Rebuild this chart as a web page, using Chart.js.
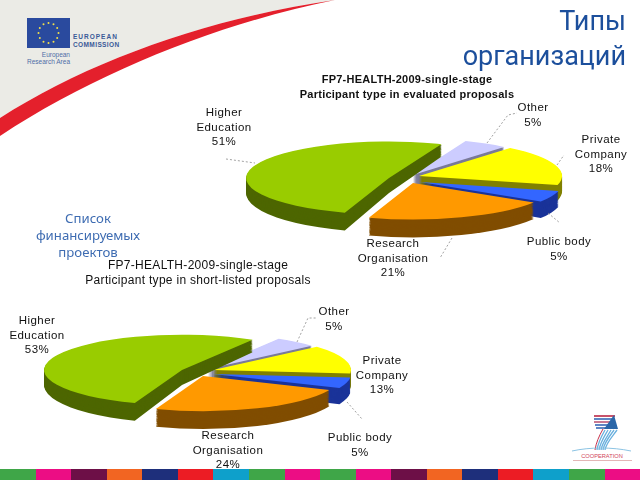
<!DOCTYPE html>
<html>
<head>
<meta charset="utf-8">
<title>Типы организаций</title>
<script src="https://cdn.jsdelivr.net/npm/chart.js@4/dist/chart.umd.min.js"></script>
<style>
  html, body { margin: 0; padding: 0; background: #fff; }
  #page { position: relative; width: 640px; height: 480px; overflow: hidden; background: #fff; }
  #page canvas.pie { position: absolute; left: 0; top: 0; }
  #decor { position: absolute; left: 0; top: 0; }
  #heading {
    position: absolute; right: 14px; top: 4px; text-align: right;
    font: 27px/35px Roboto, sans-serif; color: #1c4f9c;
  }
  #side {
    position: absolute; left: 18px; top: 210px; width: 140px; text-align: center;
    font: 13.2px/17px "Noto Sans", sans-serif; color: #3e6cb2;
  }
  #footer { position: absolute; left: 0; top: 469px; width: 640px; height: 11px; display: flex; }
  #footer div { flex: 1; }
</style>
</head>
<body>
<div id="page">
  <svg id="decor" width="640" height="480">
    <path d="M0 0H335C210 18 90 60 0 118Z" fill="#ebebe6"/>
    <path d="M0 118C90 60 210 18 335 0C225 22 100 70 0 136Z" fill="#e4202c"/>
    <rect x="27" y="18" width="43" height="30" fill="#2a4a9e"/>
    <g id="stars" fill="#f3e04a"></g>
    <text x="73" y="39" font-family="Liberation Sans" font-size="6.5" font-weight="bold" letter-spacing="1" fill="#3a5a98">EUROPEAN</text>
    <text x="73" y="47" font-family="Liberation Sans" font-size="6.5" font-weight="bold" letter-spacing="0.4" fill="#3a5a98">COMMISSION</text>
    <text x="70" y="57" text-anchor="end" font-family="Liberation Sans" font-size="6.5" fill="#4f6da6">European</text>
    <text x="70" y="64" text-anchor="end" font-family="Liberation Sans" font-size="6.5" fill="#4f6da6">Research Area</text>
    <!-- FP7 logo -->
    <g fill="#5f86c4">
      <rect x="594" y="415" width="21" height="2" fill="#c8526a"/>
      <rect x="594" y="418" width="19" height="2"/>
      <rect x="594" y="421" width="17" height="2" fill="#c87a92"/>
      <rect x="595" y="424" width="15" height="2"/>
      <rect x="596" y="427" width="14" height="2"/>
    </g>
    <path d="M614 415L618 429H604Z" fill="#2a66a8"/>
    <g fill="none" stroke="#6ab0de" stroke-width="1.3">
      <path d="M605 430C601 437 598 443 597 450"/>
      <path d="M608 430C604 437 600 443 599 450"/>
      <path d="M611 430C607 437 602 443 601 450"/>
      <path d="M614 430C609 437 604 443 603 450"/>
      <path d="M617 430C612 437 606 443 605 450"/>
    </g>
    <path d="M603 429C599 436 596 443 595 450" fill="none" stroke="#c8304a" stroke-width="1"/>
    <path d="M572 451C590 447 612 447 631 451" fill="none" stroke="#8cc4e4" stroke-width="1"/>
    <text x="602" y="458" text-anchor="middle" font-family="Liberation Sans" font-size="5.7" fill="#d0455a">COOPERATION</text>
    <rect x="573" y="460" width="59" height="1" fill="#e3b6b6"/>
  </svg>
  <canvas class="pie" id="evaluatedPie" width="640" height="480"></canvas>
  <canvas class="pie" id="shortlistPie" width="640" height="480"></canvas>
  <div id="heading">Типы<br>организаций</div>
  <div id="side">Список<br>финансируемых<br>проектов</div>
  <div id="footer"></div>
</div>

<script>
// data
const categories = ['Higher Education', 'Other', 'Private Company', 'Public body', 'Research Organisation'];
const evaluatedShares = [51, 5, 18, 5, 21];
const shortlistShares = [53, 5, 13, 5, 24];
const evaluatedTitle = ['FP7-HEALTH-2009-single-stage', 'Participant type in evaluated proposals'];
const shortlistTitle = ['FP7-HEALTH-2009-single-stage', 'Participant type in short-listed proposals'];

const topColors = ['#99cc00', '#ccccff', '#ffff00', '#3366ff', '#ff9900'];
const sideColors = ['#4d6600', '#7a7a99', '#808000', '#1a3399', '#804d00'];
const footerColors = ['#3fa648', '#ec0d84', '#6d0f47', '#f26522', '#1e2f7b', '#ec1c24', '#0ea0cb', '#3fa648', '#ec0d84'];

// back to front, so the nearer slices cover the ones behind
const drawOrder = [1, 2, 0, 3, 4];
const squash = 0.255;
const depth = 15;
const flare = 0.08; // the lower rim is a bit wider, gives the perspective look

// fake 3D: flatten the arcs and stack darker copies under them
const tiltedPie = {
  id: 'tiltedPie',
  beforeDatasetsDraw(chart, args, opts) {
    const ctx = chart.ctx;
    const arcs = chart.getDatasetMeta(0).data;
    drawOrder.forEach(i => {
      const arc = arcs[i];
      const dark = Object.create(arc);
      dark.options = Object.assign({}, arc.options, { backgroundColor: sideColors[i] });
      for (let d = depth; d >= 0; d--) {
        ctx.save();
        ctx.translate(arc.x + opts.shift[i][0], arc.y + opts.shift[i][1] + d);
        ctx.scale(1, squash * (1 + flare * d / depth));
        ctx.translate(-arc.x, -arc.y);
        if (d === 0) arc.draw(ctx); else dark.draw(ctx);
        ctx.restore();
      }
    });
    return false;
  },
  afterDraw(chart, args, opts) {
    const ctx = chart.ctx;
    ctx.save();
    ctx.strokeStyle = '#8a8a8a';
    ctx.lineWidth = 0.8;
    ctx.setLineDash([2, 2]);
    opts.leaders.forEach(line => {
      ctx.beginPath();
      line.forEach((p, k) => k ? ctx.lineTo(p[0], p[1]) : ctx.moveTo(p[0], p[1]));
      ctx.stroke();
    });
    ctx.setLineDash([]);
    ctx.textAlign = 'center';
    ctx.textBaseline = 'middle';
    ctx.fillStyle = '#111';
    ctx.font = opts.titleFont;
    ctx.letterSpacing = opts.titleSpacing + 'px';
    opts.title.forEach((t, k) => ctx.fillText(t, opts.titlePos[0], opts.titlePos[1] + k * opts.titlePos[2]));
    ctx.font = '11.5px "Liberation Sans"';
    ctx.letterSpacing = '0.45px';
    const shares = chart.data.datasets[0].data;
    chart.data.labels.forEach((name, i) => {
      const pos = opts.labelPos[i];
      const lines = opts.labelLines[i].concat(shares[i] + '%');
      lines.forEach((t, k) => ctx.fillText(t, pos[0], pos[1] + k * 14.5));
    });
    ctx.restore();
  }
};

function makePie(id, shares, cfg) {
  // padding puts the middle of the chart area on the pie centre
  const padLeft = Math.max(0, 2 * cfg.center[0] - 640);
  const padRight = Math.max(0, 640 - 2 * cfg.center[0]);
  const padTop = Math.max(0, 2 * cfg.center[1] - 480);
  const padBottom = Math.max(0, 480 - 2 * cfg.center[1]);
  return new Chart(document.getElementById(id), {
    type: 'pie',
    data: {
      labels: categories,
      datasets: [{ data: shares, backgroundColor: topColors, borderWidth: 0 }]
    },
    options: {
      responsive: false,
      animation: false,
      rotation: cfg.rotation,
      radius: cfg.radius,
      events: [],
      layout: { padding: { left: padLeft, right: padRight, top: padTop, bottom: padBottom } },
      plugins: {
        legend: { display: false },
        tooltip: { enabled: false },
        tiltedPie: cfg
      }
    },
    plugins: [tiltedPie]
  });
}

const labelLines = [['Higher', 'Education'], ['Other'], ['Private', 'Company'], ['Public body'], ['Research', 'Organisation']];

makePie('evaluatedPie', evaluatedShares, {
  center: [415, 178],
  rotation: 198,
  radius: 143,
  shift: [[-26, 0], [-2, -3], [4, -2], [5, 4], [-2, 5]],
  title: evaluatedTitle,
  titlePos: [407, 80, 14.5],
  titleFont: 'bold 11px "Liberation Sans"',
  titleSpacing: 0.25,
  labelLines: labelLines,
  labelPos: [[224, 113], [533, 108], [601, 140], [559, 242], [393, 244]],
  leaders: [
    [[226, 159], [255, 163]],
    [[487, 143], [508, 115], [517, 113]],
    [[557, 165], [564, 155]],
    [[548, 213], [560, 223]],
    [[452, 238], [440, 258]]
  ]
});

makePie('shortlistPie', shortlistShares, {
  center: [210, 372],
  rotation: 200,
  radius: 138,
  shift: [[-28, -2], [-2, -3], [3, -2], [3, 2], [-7, 4]],
  title: shortlistTitle,
  titlePos: [198, 266, 15],
  titleFont: '12px "Liberation Sans"',
  titleSpacing: 0.3,
  labelLines: labelLines,
  labelPos: [[37, 321], [334, 312], [382, 361], [360, 438], [228, 436]],
  leaders: [
    [[297, 342], [308, 318], [317, 318]],
    [[347, 402], [362, 419]]
  ]
});

// page furniture: colour strip and flag stars
footerColors.concat(footerColors).forEach(c => {
  const cell = document.createElement('div');
  cell.style.background = c;
  document.getElementById('footer').appendChild(cell);
});
const stars = document.getElementById('stars');
for (let i = 0; i < 12; i++) {
  const a = i * Math.PI / 6;
  const dot = document.createElementNS('http://www.w3.org/2000/svg', 'circle');
  dot.setAttribute('cx', 48.5 + 10 * Math.cos(a));
  dot.setAttribute('cy', 33 + 10 * Math.sin(a));
  dot.setAttribute('r', 1);
  stars.appendChild(dot);
}
</script>
</body>
</html>
